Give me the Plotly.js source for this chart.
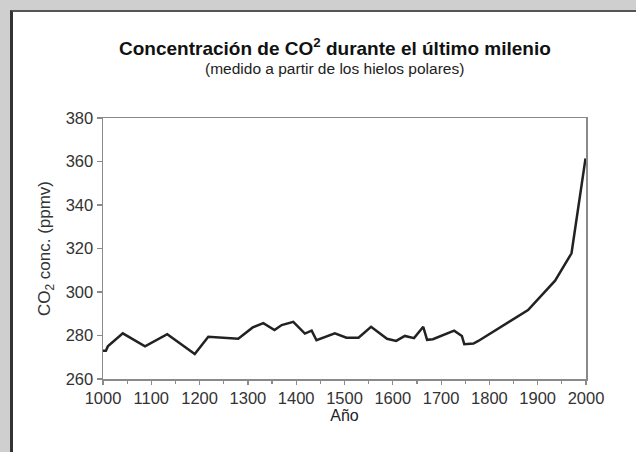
<!DOCTYPE html>
<html>
<head>
<meta charset="utf-8">
<script src="https://cdn.plot.ly/plotly-3.0.1.min.js"></script>
<style>
  html, body { margin:0; padding:0; background:#cfcfcf; width:636px; height:452px; overflow:hidden; }
  #frame { position:absolute; left:10px; top:10px; width:623px; height:442px; background:#fff;
           border-left:3px solid #333; border-top:2px solid #555; }
  #chart { width:623px; height:442px; }
</style>
</head>
<body>
<div id="frame"><div id="chart"></div></div>
<script>
const years = [1000, 1006, 1010, 1041, 1087, 1133, 1190, 1218, 1280, 1310, 1332, 1355, 1370, 1394,
               1418, 1432, 1442, 1480, 1504, 1529, 1555, 1588, 1607, 1625, 1644, 1663, 1671, 1683,
               1727, 1743, 1748, 1767, 1777, 1880, 1936, 1970, 1999];
const co2 = [273, 273, 275, 281, 275, 280.6, 271.5, 279.4, 278.5, 283.7, 285.7, 282.5, 284.8, 286.3,
             280.9, 282.2, 277.8, 281, 279, 279, 284, 278.5, 277.5, 279.8, 278.8, 284, 278, 278.3,
             282.2, 279.8, 276, 276.3, 277.5, 291.7, 305.2, 317.8, 361.4];
const xTickVals = [1000, 1100, 1200, 1300, 1400, 1500, 1600, 1700, 1800, 1900, 2000];
const xTickText = ["1000", "1100", "1200", "1300", "1400", "1500", "1600", "1700", "1800", "1900", "2000"];
const yTickVals = [260, 280, 300, 320, 340, 360, 380];

const font = "Liberation Sans, Arial, Helvetica, sans-serif";

Plotly.newPlot('chart', [{
  x: years, y: co2, type: 'scatter', mode: 'lines',
  line: { color: '#222', width: 2.5 }, hoverinfo: 'skip'
}], {
  width: 623, height: 442,
  margin: { l: 90, r: 50, t: 106, b: 75 },
  paper_bgcolor: '#fff', plot_bgcolor: '#fff',
  showlegend: false,
  font: { family: font, color: '#333' },
  xaxis: {
    range: [1000, 2000], tickvals: xTickVals, ticktext: xTickText,
    showgrid: false, zeroline: false, showline: true, linecolor: '#8a8a8a', linewidth: 1.5, mirror: true,
    ticks: 'outside', ticklen: 4, tickcolor: '#8a8a8a', tickwidth: 1.2,
    minor: { dtick: 50, tick0: 1000, ticks: 'outside', ticklen: 3, tickcolor: '#8a8a8a', showgrid: false },
    tickfont: { size: 16.5, color: '#333' },
    title: { text: 'Año', font: { size: 16, color: '#222' }, standoff: 2 }
  },
  yaxis: {
    range: [260, 380], tickvals: yTickVals,
    showgrid: false, zeroline: false, showline: true, linecolor: '#8a8a8a', linewidth: 1.5, mirror: true,
    ticks: 'outside', ticklen: 5, tickcolor: '#8a8a8a', tickwidth: 1.2,
    tickfont: { size: 16.5, color: '#333' },
    title: { text: 'CO<sub>2</sub> conc. (ppmv)', font: { size: 17, color: '#333' }, standoff: 10 }
  },
  annotations: [
    { text: '<b>Concentración de CO<sup>2</sup> durante el último milenio</b>', xref: 'paper', yref: 'paper',
      x: 0.48, y: 1.272, xanchor: 'center', yanchor: 'middle', showarrow: false,
      font: { size: 19, color: '#111', family: font } },
    { text: '(medido a partir de los hielos polares)', xref: 'paper', yref: 'paper',
      x: 0.48, y: 1.188, xanchor: 'center', yanchor: 'middle', showarrow: false,
      font: { size: 15.5, color: '#222', family: font } }
  ]
}, { staticPlot: true, displayModeBar: false });
</script>
</body>
</html>
